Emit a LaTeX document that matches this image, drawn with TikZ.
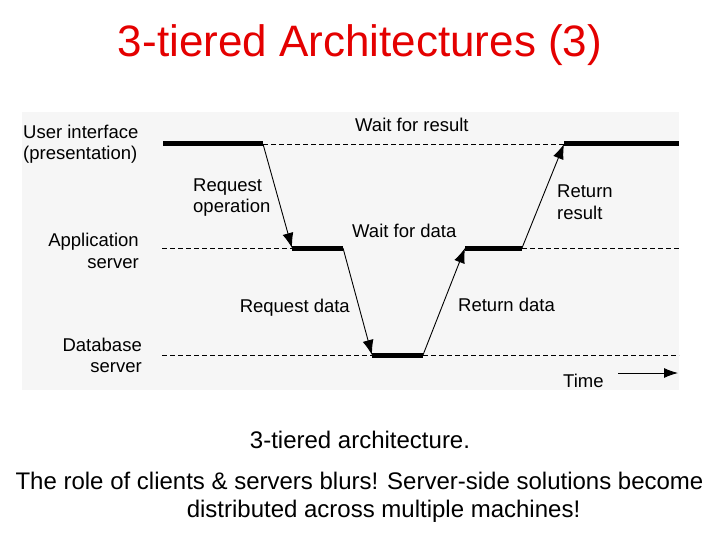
\documentclass[tikz,border=0pt]{standalone}
\usepackage{fontspec}
\setmainfont{Liberation Sans}
\usetikzlibrary{arrows.meta}
\definecolor{titlered}{RGB}{228,0,0}
\definecolor{panelgray}{RGB}{246,246,246}
\tikzset{
  lbl/.style={inner sep=0pt, font=\fontsize{18.5}{21}\selectfont},
  busy/.style={line width=5pt},
  idle/.style={line width=0.9pt, dash pattern=on 5pt off 3pt},
  msg/.style={line width=0.9pt, -{Latex[length=15pt,width=11pt]}},
  captxt/.style={inner sep=0pt, font=\fontsize{24}{28}\selectfont},
}
\begin{document}
\begin{tikzpicture}[x=1pt,y=-1pt]
\useasboundingbox (0,0) rectangle (720,540);
\fill[white] (0,0) rectangle (720,540);
\fill[panelgray] (22,112) rectangle (679,390);
% title
\node[inner sep=0pt, anchor=base, text=titlered, font=\fontsize{44}{50}\selectfont] (title) at (360,57) {3-tiered Architectures (3)};
% level coordinates
\coordinate (u0) at (163,144); \coordinate (u1) at (263,144);
\coordinate (u2) at (564,144); \coordinate (u3) at (679,144);
\coordinate (a0) at (162,248); \coordinate (a1) at (292,248);
\coordinate (a2) at (343,248); \coordinate (a3) at (465,248);
\coordinate (a4) at (522,248); \coordinate (a5) at (679,248);
\coordinate (d0) at (162,355); \coordinate (d1) at (372,355);
\coordinate (d2) at (423,355); \coordinate (d3) at (679,355);
% idle (dashed) lines
\draw[idle] (u1) -- (u2);
\draw[idle] (a0) -- (a1);
\draw[idle] (a4) -- (a5);
\draw[idle] (d0) -- (d1);
\draw[idle] (d2) -- (d3);
% busy (thick) lines
\draw[busy] (u0) -- (u1);
\draw[busy] (u2) -- (u3);
\draw[busy] (a1) -- (a2);
\draw[busy] (a3) -- (a4);
\draw[busy] (d1) -- (d2);
% messages
\draw[msg] (u1) -- (a1);
\draw[msg] (a2) -- (d1);
\draw[msg] (d2) -- (a3);
\draw[msg] (a4) -- (u2);
% labels
\node[lbl, anchor=base west, align=left] (ui) at (23,160) {User interface\\(presentation)};
\node[lbl, anchor=base west, align=left] (reqop) at (193,213) {Request\\operation};
\node[lbl, anchor=base east, align=right] (app) at (139,268) {Application\\server};
\node[lbl, anchor=base east] (reqdata) at (350,312) {Request data};
\node[lbl, anchor=base east, align=right] (db) at (142,372) {Database\\server};
\node[lbl, anchor=base west] (waitres) at (355,132) {Wait for result};
\node[lbl, anchor=base west] (waitdata) at (352,237) {Wait for data};
\node[lbl, anchor=base west, align=left] (retres) at (557,219) {Return\\result};
\node[lbl, anchor=base west] (retdata) at (458,311) {Return data};
\node[lbl, anchor=base west] (time) at (563,387) {Time};
\coordinate (t0) at (618,373); \coordinate (t1) at (678,373);
\draw[line width=0.9pt, -{Latex[length=14pt,width=10pt]}] (t0) -- (t1);
% caption
\node[captxt, anchor=base] (cap1) at (360,448) {3-tiered architecture.};
\node[captxt, anchor=base] (cap2) at (359.5,489) {The role of clients \& servers blurs! Server-side solutions become};
\node[captxt, anchor=base] (cap3) at (383.5,517) {distributed across multiple machines!};
\end{tikzpicture}
\end{document}
